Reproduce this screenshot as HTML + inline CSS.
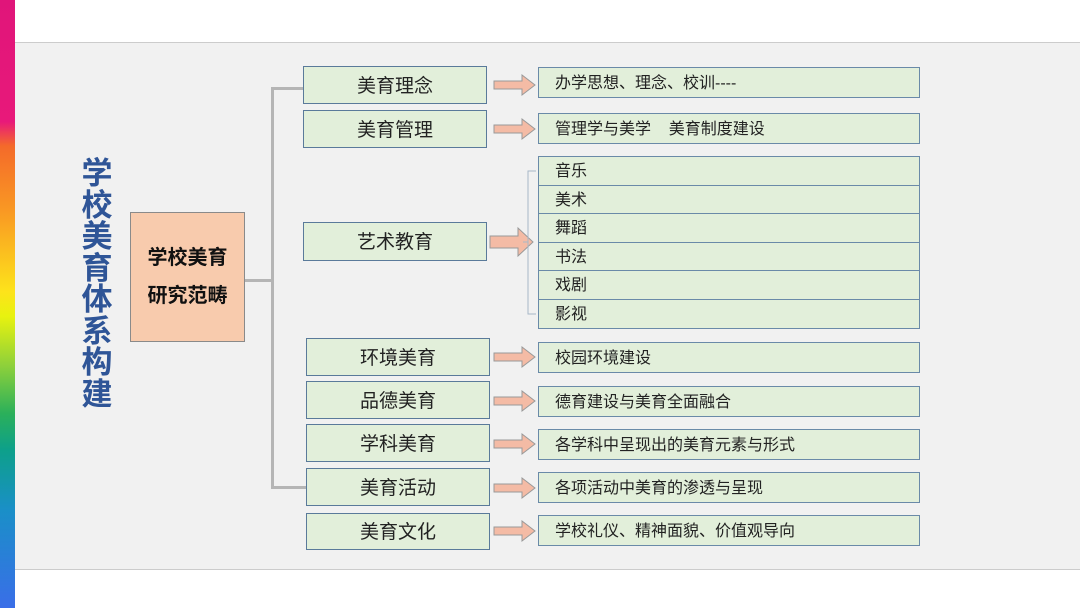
<!DOCTYPE html>
<html><head><meta charset="utf-8"><style>
*{margin:0;padding:0;box-sizing:border-box}
body{width:1080px;height:608px;background:#fff;position:relative;overflow:hidden;font-family:"Liberation Sans","Noto Sans CJK SC",sans-serif;color:#222}
.a{position:absolute}
.band{left:15px;top:42px;width:1065px;height:528px;background:#f1f1f1;border-top:1px solid #ccc;border-bottom:1px solid #ccc}
.rb{left:0;top:0;width:15px;height:608px;background:linear-gradient(#e0157a 0%,#e8197a 20%,#f46a2a 24%,#f99a23 35%,#fde31b 48%,#e8f20f 52%,#8fd13a 60%,#2bb05a 68%,#0da08a 74%,#1a8fc8 84%,#3a6ee8 100%)}
.t{left:80px;top:158px;width:34px;font-size:31px;font-weight:bold;color:#2f5597;line-height:31.5px;text-align:center}
.c{left:130px;top:212px;width:115px;height:130px;background:#f8cbad;border:1.5px solid #8a8a8a;font-size:20px;font-weight:bold;display:flex;align-items:center;justify-content:center;text-align:center;line-height:38px;color:#111}
.l1{background:#e2efda;border:1.5px solid #5a7a9a;font-size:19px;line-height:1;display:flex;align-items:center;justify-content:center;width:184px;padding-top:2px}
.r{background:#e2efda;border:1.5px solid #6a8aa8;font-size:16px;line-height:1;display:flex;align-items:center;padding-left:16px;left:538px;width:382px;padding-top:2px}
.ln{background:#b5b5b5}
</style></head><body>
<div class="a band"></div>
<div class="a rb"></div>
<div class="a t">学校美育体系构建</div>
<div class="a c">学校美育<br>研究范畴</div>
<div class="a ln" style="left:245px;top:279px;width:28px;height:3px"></div>
<div class="a ln" style="left:271px;top:87px;width:3px;height:402px"></div>
<div class="a ln" style="left:271px;top:87px;width:32px;height:3px"></div>
<div class="a ln" style="left:271px;top:486px;width:35px;height:3px"></div>

<div class="a l1" style="left:303px;top:66px;height:38px">美育理念</div>
<div class="a l1" style="left:303px;top:110px;height:38px">美育管理</div>
<div class="a l1" style="left:303px;top:222px;height:39px">艺术教育</div>
<div class="a l1" style="left:306px;top:338px;height:38px">环境美育</div>
<div class="a l1" style="left:306px;top:381px;height:38px">品德美育</div>
<div class="a l1" style="left:306px;top:424px;height:38px">学科美育</div>
<div class="a l1" style="left:306px;top:468px;height:38px">美育活动</div>
<div class="a l1" style="left:306px;top:513px;height:37px">美育文化</div>

<svg class="a" style="left:0;top:0" width="1080" height="608">
<g fill="#f4bba5" stroke="#999" stroke-width="1">
<path d="M494,81 h28 v-6 l13,10 l-13,10 v-6 h-28z"/>
<path d="M494,125 h28 v-6 l13,10 l-13,10 v-6 h-28z"/>
<path d="M490,236 h28 v-8 l15,14 l-15,14 v-8 h-28z"/>
<path d="M494,353 h28 v-6 l13,10 l-13,10 v-6 h-28z"/>
<path d="M494,397 h28 v-6 l13,10 l-13,10 v-6 h-28z"/>
<path d="M494,440 h28 v-6 l13,10 l-13,10 v-6 h-28z"/>
<path d="M494,484 h28 v-6 l13,10 l-13,10 v-6 h-28z"/>
<path d="M494,527 h28 v-6 l13,10 l-13,10 v-6 h-28z"/>
</g>
<path d="M536,171 h-8 v143 h8 M528,242 h-5" fill="none" stroke="#a8b8c8" stroke-width="1"/>
</svg>

<div class="a r" style="top:67px;height:31px">办学思想、理念、校训----</div>
<div class="a r" style="top:113px;height:31px">管理学与美学&nbsp;&nbsp;&nbsp;&nbsp;美育制度建设</div>
<div class="a r" style="top:156px;height:30px">音乐</div>
<div class="a r" style="top:185px;height:30px">美术</div>
<div class="a r" style="top:213px;height:30px">舞蹈</div>
<div class="a r" style="top:242px;height:30px">书法</div>
<div class="a r" style="top:270px;height:30px">戏剧</div>
<div class="a r" style="top:299px;height:30px">影视</div>
<div class="a r" style="top:342px;height:31px">校园环境建设</div>
<div class="a r" style="top:386px;height:31px">德育建设与美育全面融合</div>
<div class="a r" style="top:429px;height:31px">各学科中呈现出的美育元素与形式</div>
<div class="a r" style="top:472px;height:31px">各项活动中美育的渗透与呈现</div>
<div class="a r" style="top:515px;height:31px">学校礼仪、精神面貌、价值观导向</div>
</body></html>
